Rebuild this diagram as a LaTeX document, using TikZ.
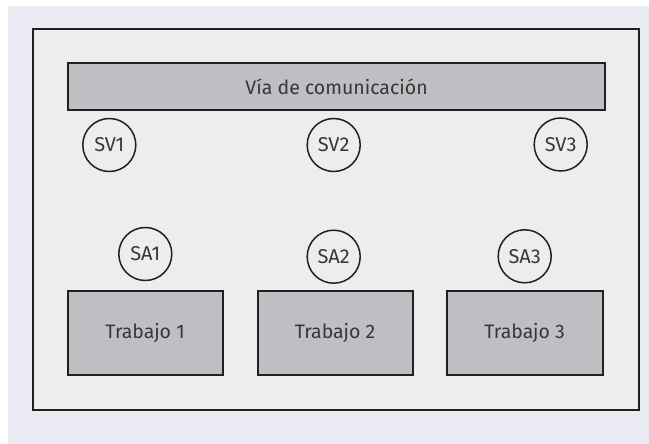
\documentclass[tikz,border=0pt]{standalone}
\usepackage{fontspec}
\setmainfont{Fira Sans}
\definecolor{fundo}{RGB}{234,234,243}
\definecolor{quadro}{RGB}{237,237,237}
\definecolor{cinza}{RGB}{190,191,194}
\definecolor{traco}{RGB}{35,31,32}
\definecolor{texto}{RGB}{55,55,55}
\begin{document}
\begin{tikzpicture}[x=1pt, y=-1pt, line join=miter,
    bloco/.style={draw=traco, line width=2pt, fill=cinza, text=texto,
        inner sep=0pt, font=\fontsize{19.5}{22}\selectfont},
    sonda/.style={draw=traco, line width=1.5pt, circle, fill=quadro, text=texto,
        minimum size=53pt, inner sep=0pt, font=\fontsize{20}{22}\selectfont}]

            % Fundo e moldura
            \useasboundingbox (0,0) rectangle (649,444);
            \fill[white] (0,0) rectangle (649,444);
            \fill[fundo] (8,6) rectangle (649,444);
            \draw[draw=traco, fill=quadro, line width=2pt] (33,29) rectangle (639,410);

            % --- Via de comunicacao ---
            \node[bloco, minimum width=537pt, minimum height=47pt] (via) at (336.5,86.5) {Vía de comunicación};

            % --- Circulos SV ---
            \node[sonda] (SV1) at (109.3,145) {SV1};
            \node[sonda] (SV2) at (333.7,145) {SV2};
            \node[sonda] (SV3) at (560.7,144.5) {SV3};

            % --- Circulos SA ---
            \node[sonda] (SA1) at (145.3,254) {SA1};
            \node[sonda] (SA2) at (333.7,256.7) {SA2};
            \node[sonda] (SA3) at (524.7,256.3) {SA3};

            % --- Trabalhos ---
            \node[bloco, minimum width=155pt, minimum height=84pt] (T1) at (145.1,333) {Trabajo 1};
            \node[bloco, minimum width=155pt, minimum height=84pt] (T2) at (335,333) {Trabajo 2};
            \node[bloco, minimum width=156pt, minimum height=84pt] (T3) at (524.7,333) {Trabajo 3};

\end{tikzpicture}
\end{document}
